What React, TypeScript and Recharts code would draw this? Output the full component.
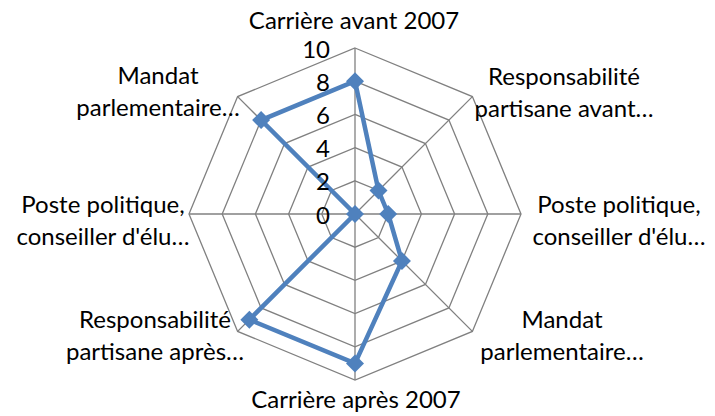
import React from "react"
import { RadarChart, Radar, PolarGrid, PolarAngleAxis, PolarRadiusAxis } from "recharts"

// categories clockwise from the top
const categories = [
  "Carrière avant 2007",
  "Responsabilité\npartisane avant…",
  "Poste politique,\nconseiller d'élu…",
  "Mandat\nparlementaire…",
  "Carrière après 2007",
  "Responsabilité\npartisane après…",
  "Poste politique,\nconseiller d'élu…",
  "Mandat\nparlementaire…",
]
const values = [8, 2, 2, 4, 9, 9, 0, 8]
const radiusTicks = [0, 2, 4, 6, 8, 10]

// labels repeat, so the axis runs on a unique key
const data = categories.map((name, i) => ({ key: `c${i}`, name, value: values[i] }))

const FONT = "Lato, 'Open Sans', sans-serif"
const BLUE = "#4F81BD"
const CX = 355
const CY = 214
const R = 166

// label anchor (center x, first baseline y) for each spoke
const LABEL_POS = [
  { x: 354, y: 29 },
  { x: 564, y: 85 },
  { x: 619, y: 213 },
  { x: 562, y: 328 },
  { x: 356, y: 408 },
  { x: 155, y: 328 },
  { x: 103, y: 213 },
  { x: 158, y: 84 },
]

const AngleTick = (props: any) => {
  const { payload, index } = props
  const pos = LABEL_POS[index] || { x: props.x, y: props.y }
  const idx = Number(String(payload.value).slice(1))
  const lines = (categories[idx] || "").split("\n")
  return (
    <text x={pos.x} y={pos.y} textAnchor="middle" fill="#000" fontSize={24} fontFamily={FONT}>
      {lines.map((l, i) => (
        <tspan key={i} x={pos.x} dy={i === 0 ? 0 : 32}>
          {l}
        </tspan>
      ))}
    </text>
  )
}

const RadiusTick = (props: any) => {
  const { x, y, payload } = props
  return (
    <text x={x - 25} y={y} textAnchor="end" dominantBaseline="central" fill="#000" fontSize={24} fontFamily={FONT}>
      {payload.value}
    </text>
  )
}

const Diamond = (props: any) => {
  const { cx, cy } = props
  const s = 9
  return <polygon points={`${cx},${cy - s} ${cx + s},${cy} ${cx},${cy + s} ${cx - s},${cy}`} fill={BLUE} stroke="none" />
}

export default function App() {
  return (
    <div style={{ position: "absolute", left: 0, top: 0, width: 715, height: 416, background: "#fff" }}>
      <RadarChart
        width={715}
        height={416}
        data={data}
        cx={CX}
        cy={CY}
        outerRadius={R}
        margin={{ top: 0, right: 0, bottom: 0, left: 0 }}
      >
        <PolarGrid gridType="polygon" stroke="#808080" strokeWidth={1.3} />
        <PolarAngleAxis dataKey="key" tick={<AngleTick />} tickLine={false} axisLine={false} />
        <PolarRadiusAxis
          angle={90}
          domain={[0, 10]}
          ticks={radiusTicks}
          tickCount={6}
          tick={<RadiusTick />}
          axisLine={false}
          tickLine={false}
        />
        <Radar
          dataKey="value"
          stroke={BLUE}
          strokeWidth={4.5}
          fill="none"
          fillOpacity={0}
          dot={<Diamond />}
          isAnimationActive={false}
        />
      </RadarChart>
    </div>
  )
}
